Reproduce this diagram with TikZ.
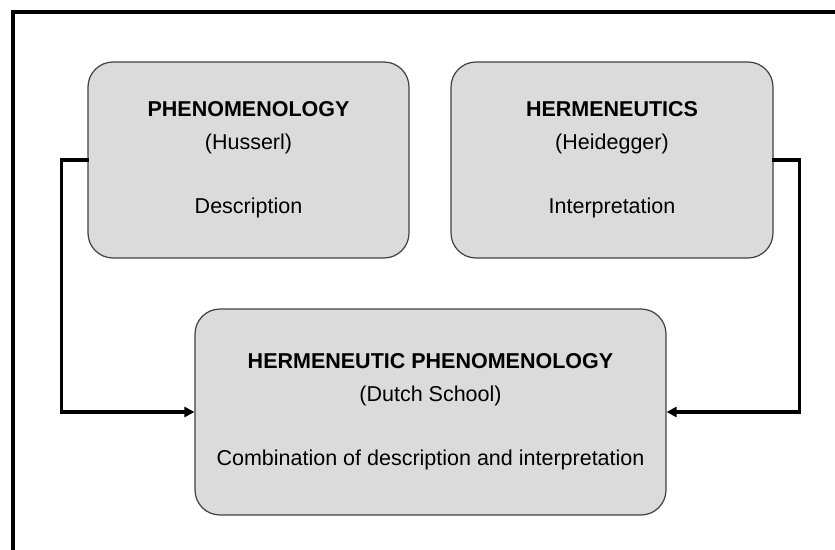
\documentclass[tikz,border=0pt]{standalone}
\usepackage{fontspec}
\setmainfont{Liberation Sans}
\usetikzlibrary{arrows.meta}
\tikzset{
  conceptbox/.style={draw=black!75, line width=1.2pt, fill=black!14,
    rounded corners=25pt, align=center, inner sep=0pt,
    font=\fontsize{21.5}{32.3}\selectfont},
  link/.style={line width=3.2pt, line cap=rect,
    -{Triangle[length=10pt,width=10pt]}},
  frame/.style={line width=3.2pt}
}
\newcommand{\gapline}{\\[32.3pt]}
\begin{document}
\begin{tikzpicture}[x=1pt,y=-1pt]
  \useasboundingbox (0,0) rectangle (835,549);
  \clip (0,0) rectangle (835,549);
  % outer frame, only its top and left sides fall on the page
  \draw[frame] (13,12) rectangle (860,570);

  \node[conceptbox, minimum width=321pt, minimum height=196pt] (phen) at (248.5,160)
    {\textbf{PHENOMENOLOGY}\\(Husserl)\gapline Description};
  \node[conceptbox, minimum width=322pt, minimum height=196pt] (herm) at (612,160)
    {\textbf{HERMENEUTICS}\\(Heidegger)\gapline Interpretation};
  \node[conceptbox, minimum width=471pt, minimum height=206pt] (hp) at (430.5,412)
    {\textbf{HERMENEUTIC PHENOMENOLOGY}\\(Dutch School)\gapline Combination of description and interpretation};

  \draw[link] (phen.west) -- ++(-26,0) |- (hp.west);
  \draw[link] (herm.east) -- ++(26,0) |- (hp.east);
\end{tikzpicture}
\end{document}
